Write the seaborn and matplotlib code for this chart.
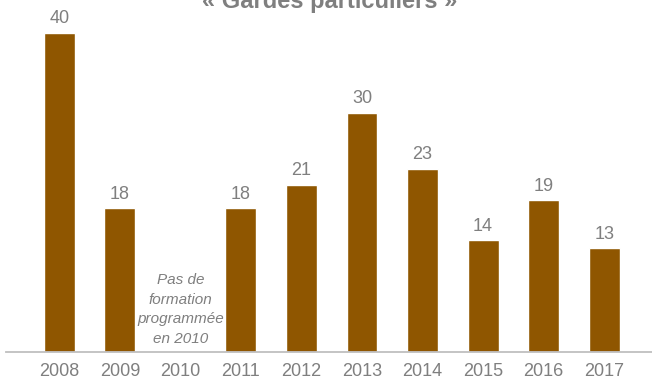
import numpy as np
import pandas as pd
import matplotlib
matplotlib.use("Agg")
import matplotlib.pyplot as plt
import seaborn as sns

years = ['2008', '2009', '2010', '2011', '2012', '2013', '2014', '2015', '2016', '2017']
counts = [40, 18, 0, 18, 21, 30, 23, 14, 19, 13]
value_labels = ['40', '18', '', '18', '21', '30', '23', '14', '19', '13']
title = "« Gardes particuliers »"
note = "Pas de\nformation\nprogrammée\nen 2010"

sns.set_theme(style="white")
plt.rcParams['font.family'] = ['Liberation Sans', 'DejaVu Sans']

df = pd.DataFrame({'year': years, 'count': counts})

fig = plt.figure(figsize=(6.52, 3.81), dpi=100)
ax = fig.add_axes([6 / 652, 29 / 381, 646 / 652, 352 / 381])

sns.barplot(data=df, x='year', y='count', order=years, color='#8f5600',
            saturation=1, width=0.51, ax=ax)

ax.bar_label(ax.containers[0], labels=value_labels, padding=4,
             fontsize=13, color='#7f7f7f')

ax.text(2, 5.3, note, ha='center', va='center', fontsize=11, style='italic',
        color='#7f7f7f', linespacing=1.5)

fig.text(0.505, 1 - 8 / 381, title, ha='center', va='baseline',
         fontsize=17, fontweight='bold', color='#7f7f7f')

ax.set_xlim(-0.88, 9.79)
ax.set_ylim(0, 44.14)
ax.set_xlabel('')
ax.set_ylabel('')
ax.set_yticks([])
ax.tick_params(axis='x', length=0, labelsize=13, labelcolor='#7f7f7f', pad=8)
for side in ['top', 'right', 'left']:
    ax.spines[side].set_visible(False)
ax.spines['bottom'].set_color('#bfbfbf')
ax.spines['bottom'].set_linewidth(1.3)

fig.savefig('out.png', dpi=100)
